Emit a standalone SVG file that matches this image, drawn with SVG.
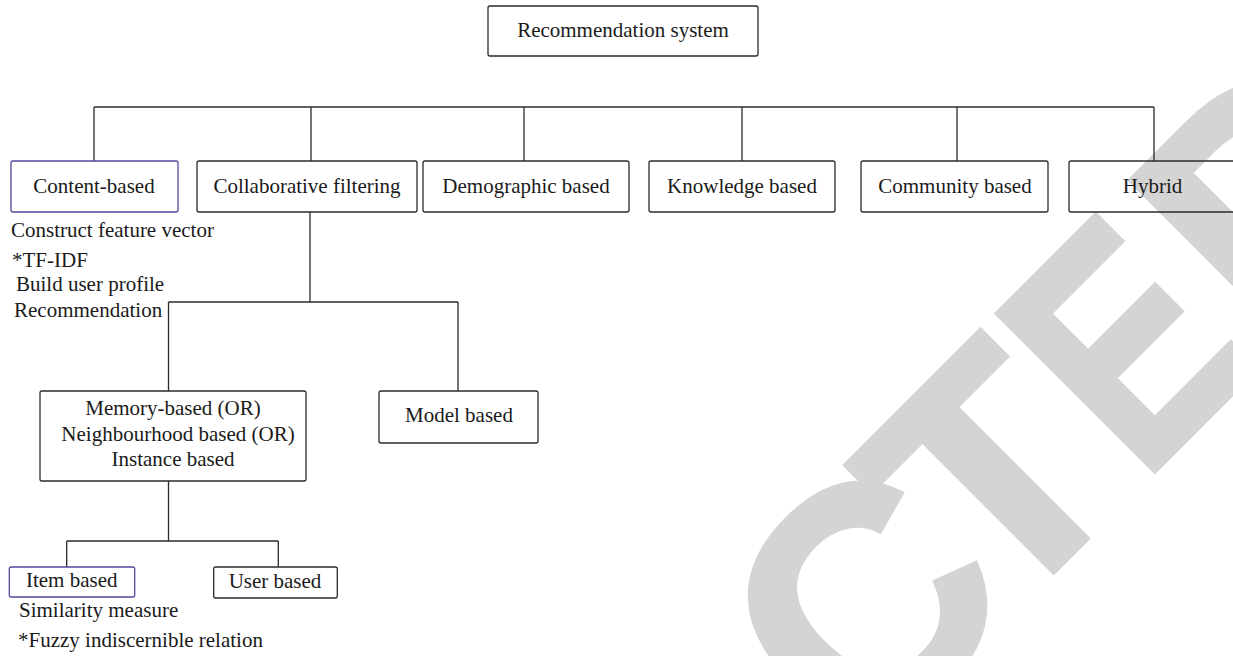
<svg xmlns="http://www.w3.org/2000/svg" width="1233" height="656" viewBox="0 0 1233 656">
<style>
.box{fill:none;stroke:#2b2b2b;stroke-width:1.3}
.blue{fill:none;stroke:#4e4a98;stroke-width:1.3}
.t{font-family:"Liberation Serif","Times New Roman",serif;font-size:21px;fill:#1a1a1a}
.c{text-anchor:middle}
.wm{font-family:"Liberation Sans",Arial,sans-serif;font-weight:bold;font-size:322px;fill:#d4d4d4;stroke:#d4d4d4;stroke-width:6}
#connectors path{fill:none;stroke:#2b2b2b;stroke-width:1.3}
</style>
<rect width="1233" height="656" fill="#ffffff"/>
<g id="watermark" transform="rotate(-45)">
<text class="wm" x="67" y="1149">C</text>
<text class="wm" x="266" y="1149">T</text>
<text class="wm" transform="translate(485,1149) scale(0.8,1)" x="-23.5" y="0">E</text>
<text class="wm" x="651" y="1149">D</text>
</g>
<g id="connectors">
<path d="M94,107 H1154"/>
<path d="M94,107 V161 M311,107 V161 M524,107 V161 M742,107 V161 M957,107 V161 M1154,107 V161"/>
<path d="M310,212 V302 M168.5,302 H458 M168.5,302 V391 M458,302 V391"/>
<path d="M168.5,481 V541 M66.7,541 H278.3 M66.7,541 V567 M278.3,541 V567"/>
</g>
<g id="root">
<rect class="box" x="488" y="6" width="270" height="50" rx="2"/>
<text class="t c" x="623" y="37">Recommendation system</text>
</g>
<g id="content-based">
<rect class="blue" x="11" y="161" width="167" height="51" rx="2"/>
<text class="t c" x="94" y="193">Content-based</text>
<text class="t" x="11" y="237">Construct feature vector</text>
<text class="t" x="12" y="267">*TF-IDF</text>
<text class="t" x="16" y="291">Build user profile</text>
<text class="t" x="14" y="317">Recommendation</text>
</g>
<g id="collaborative">
<rect class="box" x="197" y="161" width="220" height="51" rx="2"/>
<text class="t c" x="307" y="193">Collaborative filtering</text>
</g>
<g id="demographic">
<rect class="box" x="423" y="161" width="206" height="51" rx="2"/>
<text class="t c" x="526" y="193">Demographic based</text>
</g>
<g id="knowledge">
<rect class="box" x="649" y="161" width="186" height="51" rx="2"/>
<text class="t c" x="742" y="193">Knowledge based</text>
</g>
<g id="community">
<rect class="box" x="861" y="161" width="187" height="51" rx="2"/>
<text class="t c" x="955" y="193">Community based</text>
</g>
<g id="hybrid">
<rect class="box" x="1069" y="161" width="180" height="51" rx="2"/>
<text class="t c" x="1152.5" y="193">Hybrid</text>
</g>
<g id="memory-based">
<rect class="box" x="40" y="391" width="266" height="90" rx="2"/>
<text class="t c" x="173" y="415">Memory-based (OR)</text>
<text class="t c" x="178" y="441">Neighbourhood based (OR)</text>
<text class="t c" x="173" y="466">Instance based</text>
</g>
<g id="model-based">
<rect class="box" x="379" y="391" width="159" height="52" rx="2"/>
<text class="t c" x="459" y="422">Model based</text>
</g>
<g id="item-based">
<rect class="blue" x="9.3" y="567" width="125.4" height="30" rx="2"/>
<text class="t c" x="71.7" y="587">Item based</text>
<text class="t" x="19" y="617">Similarity measure</text>
<text class="t" x="18" y="647">*Fuzzy indiscernible relation</text>
</g>
<g id="user-based">
<rect class="box" x="213.7" y="567" width="123.6" height="31" rx="2"/>
<text class="t c" x="275" y="588">User based</text>
</g>
</svg>
